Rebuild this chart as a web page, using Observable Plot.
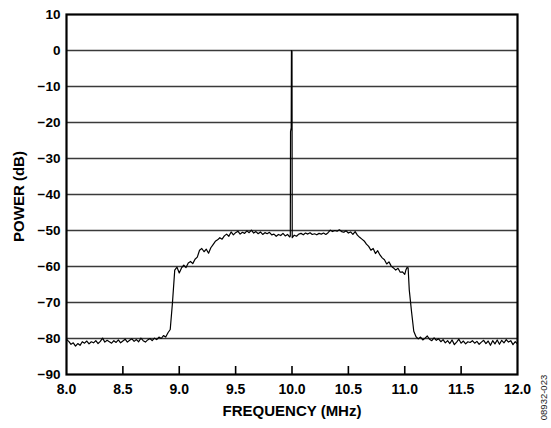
<!DOCTYPE html>
<html>
<head>
<meta charset="utf-8">
<script src="https://cdn.jsdelivr.net/npm/d3@7"></script>
<script src="https://cdn.jsdelivr.net/npm/@observablehq/plot@0.6"></script>
<style>
  html, body { margin: 0; padding: 0; background: #fff; }
</style>
</head>
<body>
<script>
const freq = [
  8.00, 8.02, 8.04, 8.06, 8.08, 8.10, 8.12, 8.14, 8.16, 8.18,
  8.20, 8.22, 8.24, 8.26, 8.28, 8.30, 8.32, 8.34, 8.36, 8.38,
  8.40, 8.42, 8.44, 8.46, 8.48, 8.50, 8.52, 8.54, 8.56, 8.58,
  8.60, 8.62, 8.64, 8.66, 8.68, 8.70, 8.72, 8.74, 8.76, 8.78,
  8.80, 8.82, 8.84, 8.86, 8.88, 8.90, 8.92, 8.94, 8.96, 8.98,
  9.00, 9.02, 9.04, 9.06, 9.08, 9.10, 9.12, 9.14, 9.16, 9.18,
  9.20, 9.22, 9.24, 9.26, 9.28, 9.30, 9.32, 9.34, 9.36, 9.38,
  9.40, 9.42, 9.44, 9.46, 9.48, 9.50, 9.52, 9.54, 9.56, 9.58,
  9.60, 9.62, 9.64, 9.66, 9.68, 9.70, 9.72, 9.74, 9.76, 9.78,
  9.80, 9.82, 9.84, 9.86, 9.88, 9.90, 9.92, 9.94, 9.96, 9.98,
  9.985, 9.987, 9.993, 9.995, 10.000, 10.002,
  10.02, 10.04, 10.06, 10.08, 10.10, 10.12, 10.14, 10.16, 10.18,
  10.20, 10.22, 10.24, 10.26, 10.28, 10.30, 10.32, 10.34, 10.36, 10.38,
  10.40, 10.42, 10.44, 10.46, 10.48, 10.50, 10.52, 10.54, 10.56, 10.58,
  10.60, 10.62, 10.64, 10.66, 10.68, 10.70, 10.72, 10.74, 10.76, 10.78,
  10.80, 10.82, 10.84, 10.86, 10.88, 10.90, 10.92, 10.94, 10.96, 10.98,
  11.00, 11.01, 11.02, 11.03, 11.04, 11.06, 11.08, 11.10,
  11.12, 11.14, 11.16, 11.18, 11.20, 11.22, 11.24, 11.26, 11.28,
  11.30, 11.32, 11.34, 11.36, 11.38, 11.40, 11.42, 11.44, 11.46, 11.48,
  11.50, 11.52, 11.54, 11.56, 11.58, 11.60, 11.62, 11.64, 11.66, 11.68,
  11.70, 11.72, 11.74, 11.76, 11.78, 11.80, 11.82, 11.84, 11.86, 11.88,
  11.90, 11.92, 11.94, 11.96, 11.98, 12.00
];
const power = [
  -80.3, -80.8, -81.6, -81.2, -82.1, -81.4, -81.9, -80.9, -81.3, -80.7,
  -81.5, -80.9, -81.2, -80.6, -81.4, -80.8, -79.9, -81.0, -80.5, -80.9,
  -81.3, -80.6, -81.1, -80.4, -81.2, -80.7, -80.2, -81.0, -80.5, -80.1,
  -80.8, -80.3, -80.9, -79.9, -80.6, -81.0, -80.4, -80.0, -80.6, -79.9,
  -80.3, -79.6, -80.0, -79.2, -79.6, -78.4, -77.5, -70.0, -61.0, -60.2,
  -61.8, -60.4, -59.6, -60.3, -59.0, -58.6, -59.2, -58.0, -57.4, -55.5,
  -55.0, -55.9, -55.2, -56.3, -54.8, -53.9, -53.0, -52.6, -52.0, -52.4,
  -51.5, -51.0, -51.6, -50.4, -51.2, -50.6, -50.2, -51.0, -50.5, -50.8,
  -50.1, -50.6, -49.9, -50.7, -50.3, -50.9, -50.4, -51.1, -50.6, -50.9,
  -50.5, -51.2, -51.0, -51.6, -51.1, -51.4, -50.8, -51.5, -51.1, -51.8,
  -51.5, -22.5, -21.5, 0.0, -0.3, -52.0,
  -51.3, -51.6, -51.0, -50.8, -51.2, -50.7, -51.0, -50.6, -51.1,
  -50.9, -51.2, -50.8, -51.0, -50.7, -51.1, -50.6, -49.9, -50.3, -50.0,
  -50.2, -49.8, -50.3, -50.5, -50.1, -50.7, -50.4, -51.1, -50.3, -51.3,
  -51.9, -52.4, -52.9, -53.8, -54.4, -55.5, -55.0, -56.4, -55.6, -56.8,
  -57.6, -58.1, -59.3, -58.7, -59.9, -60.4, -61.0, -60.5, -61.6, -61.5,
  -62.2, -61.0, -60.3, -60.4, -66.5, -72.5, -78.0, -79.5,
  -80.1, -79.6, -80.4, -79.9, -79.3, -80.2, -80.6, -79.8, -80.5,
  -80.1, -80.9, -80.3, -81.2, -80.6, -81.4, -80.4, -81.7, -81.0, -80.2,
  -81.3, -80.7, -81.5, -80.9, -81.1, -80.6, -81.3, -80.8, -81.6, -81.0,
  -80.5, -81.4, -80.7, -81.9, -80.6, -81.5, -80.4, -81.6, -80.5, -81.2,
  -80.3, -81.0, -80.6, -81.7, -80.9, -81.5
];
const xTicks = [8.0, 8.5, 9.0, 9.5, 10.0, 10.5, 11.0, 11.5, 12.0];
const xInnerTicks = [8.5, 9.0, 9.5, 10.0, 10.5, 11.0, 11.5];
const yTicks = [10, 0, -10, -20, -30, -40, -50, -60, -70, -80, -90];
const yGrid = [0, -10, -20, -30, -40, -50, -60, -70, -80];
const xTitle = "FREQUENCY (MHz)";
const yTitle = "POWER (dB)";
const figId = "08932-023";

const data = freq.map((f, i) => ({f, p: power[i]}));
const font = "Arial, 'Liberation Sans', Helvetica, sans-serif";

const chart = Plot.plot({
  width: 551,
  height: 428,
  marginLeft: 66,
  marginRight: 34,
  marginTop: 14,
  marginBottom: 54,
  style: {fontFamily: font, fontWeight: "bold", color: "#000", background: "#fff"},
  x: {domain: [8, 12], label: null},
  y: {domain: [-90, 10], label: null},
  marks: [
    Plot.ruleY(yGrid, {stroke: "#3a3a3a", strokeWidth: 1.6}),
    Plot.line(data, {x: "f", y: "p", stroke: "#000", strokeWidth: 1.2}),
    Plot.ruleX(xInnerTicks, {x: d => d, y1: -90, y2: -90, insetTop: -8, stroke: "#000", strokeWidth: 1.6}),
    Plot.frame({stroke: "#000", strokeWidth: 2.2}),
    Plot.axisY({ticks: yTicks, tickSize: 0, tickPadding: 6, fontSize: 13.5, fontWeight: "bold", label: null}),
    Plot.axisX({ticks: xTicks, tickSize: 0, tickPadding: 10, fontSize: 14, fontWeight: "bold", tickFormat: d3.format(".1f"), label: null}),
    Plot.text([xTitle], {frameAnchor: "bottom", dy: 37, fontSize: 15, fontWeight: "bold", lineAnchor: "middle", fill: "#000"}),
    Plot.text([yTitle], {frameAnchor: "left", dx: -47, dy: 2, rotate: -90, textAnchor: "middle", fontSize: 15, fontWeight: "bold", lineAnchor: "middle", fill: "#000"}),
    Plot.text([figId], {frameAnchor: "bottom-right", dx: 26, dy: 23, rotate: -90, textAnchor: "middle", fontSize: 9.5, fontWeight: "normal", lineAnchor: "middle", fill: "#222"})
  ]
});
document.body.appendChild(chart);
</script>
</body>
</html>
